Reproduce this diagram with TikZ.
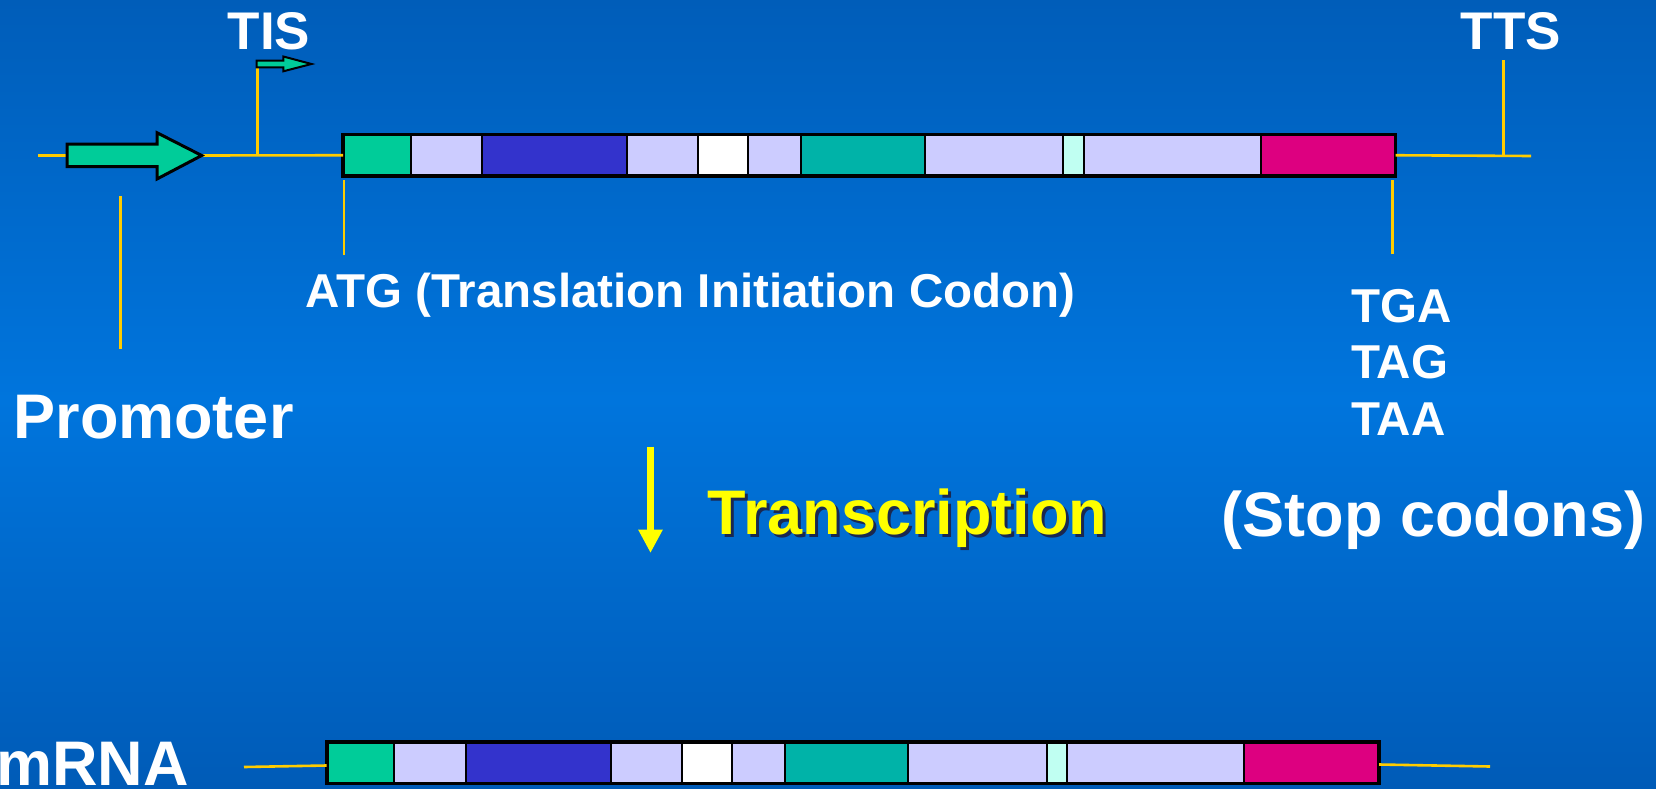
\documentclass[tikz,border=0pt]{standalone}
\usepackage{fontspec}
\setmainfont{Liberation Sans}
\usetikzlibrary{arrows.meta}
\definecolor{bgtop}{HTML}{005DB9}
\definecolor{bgmid}{HTML}{0075DD}
\definecolor{bgbot}{HTML}{005BB7}
\definecolor{lineyellow}{HTML}{FFCC00}
\definecolor{txtyellow}{HTML}{FFFF00}
\definecolor{shadowc}{HTML}{1A2850}
\definecolor{cgreen}{HTML}{00CC99}
\definecolor{clav}{HTML}{CCCCFF}
\definecolor{cblue}{HTML}{3333CC}
\definecolor{cteal}{HTML}{00B3A8}
\definecolor{ccyan}{HTML}{C0FFF2}
\definecolor{cmag}{HTML}{DD0080}
\begin{document}
\begin{tikzpicture}[x=1pt,y=-1pt,
  seg/.style={draw=black, line width=2pt, minimum height=40pt, inner sep=0pt, anchor=west},
  barframe/.style={draw=black, line width=3.2pt},
  yl/.style={draw=lineyellow, line width=2.6pt},
  lbl/.style={text=white, inner sep=0pt, font=\bfseries\fontsize{47.5}{57}\selectfont},
  biglbl/.style={text=white, inner sep=0pt, font=\bfseries\fontsize{63}{75}\selectfont},
  toplbl/.style={text=white, inner sep=0pt, font=\bfseries\fontsize{53}{63}\selectfont},
  gene/.style={fill=cgreen, draw=black, line join=miter}]
\useasboundingbox (0,0) rectangle (1656,789);
\shade[top color=bgtop, bottom color=bgmid] (0,0) rectangle (1656,400);
\shade[top color=bgmid, bottom color=bgbot] (0,399) rectangle (1656,789);

% ---------- top (DNA) bar ----------
\foreach \i/\l/\r/\c in {1/343/409.5/cgreen, 2/409.5/481/clav, 3/481/626/cblue,
  4/626/697/clav, 5/697/747/white, 6/747/800/clav, 7/800/923.5/cteal,
  8/923.5/1062/clav, 9/1062/1082.5/ccyan, 10/1082.5/1259.5/clav, 11/1259.5/1393.5/cmag}
  \node[seg, fill=\c, minimum width={(\r-\l)*1pt}] (t\i) at (\l,155.25) {};
\draw[barframe] (t1.north west) rectangle (t11.south east);

% ---------- bottom (mRNA) bar ----------
\foreach \i/\l/\r/\c in {1/326.6/393.1/cgreen, 2/393.1/464.6/clav, 3/464.6/609.6/cblue,
  4/609.6/680.6/clav, 5/680.6/730.6/white, 6/730.6/783.6/clav, 7/783.6/907.1/cteal,
  8/907.1/1045.6/clav, 9/1045.6/1066.1/ccyan, 10/1066.1/1243.1/clav, 11/1243.1/1377.1/cmag}
  \node[seg, fill=\c, minimum width={(\r-\l)*1pt}] (m\i) at (\l,762.5) {};
\draw[barframe] (m1.north west) rectangle (m11.south east);

% ---------- coordinates ----------
\coordinate (dnastart) at (38,155.3);
\coordinate (ptail) at (67,155.3);
\coordinate (ptip) at (201.7,155.5);
\coordinate (tisbase) at (257.3,155.8);
\coordinate (tistop) at (257.3,66.7);
\coordinate (ttsbase) at (1503.7,156);
\coordinate (ttstop) at (1503.7,60);
\coordinate (dnaend) at (1531,156);
\coordinate (promtop) at (120.3,196);
\coordinate (prombot) at (120.3,348.5);
\coordinate (atgtop) at (344,180.3);
\coordinate (atgbot) at (344,255);
\coordinate (tgatop) at (1392.3,180);
\coordinate (tgabot) at (1392.3,253.5);
\coordinate (mrnastart) at (244,767);
\coordinate (mrnain) at (m1.west |- 0,765.5);
\coordinate (mrnaout) at (m11.east |- 0,764.5);
\coordinate (mrnaend) at (1490,766.5);
\coordinate (trtop) at (650.5,446.7);
\coordinate (trtip) at (650.5,553);

% ---------- yellow lines ----------
\draw[yl] (dnastart) -- (ptail);
\draw[yl] (ptip) -- (t1.west);
\draw[yl] (tisbase) -- (tistop);
\draw[yl] (t11.east) -- (dnaend);
\draw[yl] (ttsbase) -- (ttstop);
\draw[yl] (promtop) -- (prombot);
\draw[yl] (atgtop) -- (atgbot);
\draw[yl] (tgatop) -- (tgabot);
\draw[yl] (mrnastart) -- (mrnain);
\draw[yl] (mrnaout) -- (mrnaend);

% ---------- promoter arrow and TIS arrow ----------
\filldraw[gene, line width=3pt] (67,144) -- (157,144) -- (157,132.7) -- (201.7,155.5)
  -- (157,179) -- (157,166.7) -- (67,166.7) -- cycle;
\filldraw[gene, line width=2pt] (256.7,60.7) -- (283.3,60.7) -- (283.3,56.5) -- (311.5,64)
  -- (283.3,71.3) -- (283.3,67.3) -- (256.7,67.3) -- cycle;

% ---------- transcription arrow ----------
\draw[draw=txtyellow, line width=7pt, -{Triangle[width=23pt 0 0, length=23.5pt 0 0]}] (trtop) -- (trtip);

% ---------- labels ----------
\node[toplbl, anchor=base] (tis) at (269,50) {TIS};
\node[toplbl, anchor=base] (tts) at (1511,50) {TTS};
\node[lbl, anchor=base] (atg) at (690.4,307.7) {ATG (Translation Initiation Codon)};
\node[biglbl, anchor=base] (prom) at (153.5,438.3) {Promoter};
\node[lbl, anchor=base west] (tga) at (1351,322.3) {TGA};
\node[lbl, anchor=base west] (tag) at (1351,378.6) {TAG};
\node[lbl, anchor=base west] (taa) at (1351,435) {TAA};
\node[biglbl, anchor=base, text=shadowc] (trsh) at (910.5,537.4) {Transcription};
\node[biglbl, anchor=base, text=txtyellow] (tr) at (907.5,534.4) {Transcription};
\node[biglbl, anchor=base] (stop) at (1433.4,536) {(Stop codons)};
\node[biglbl, anchor=base west] (mrna) at (-4,785) {mRNA};
\end{tikzpicture}
\end{document}
